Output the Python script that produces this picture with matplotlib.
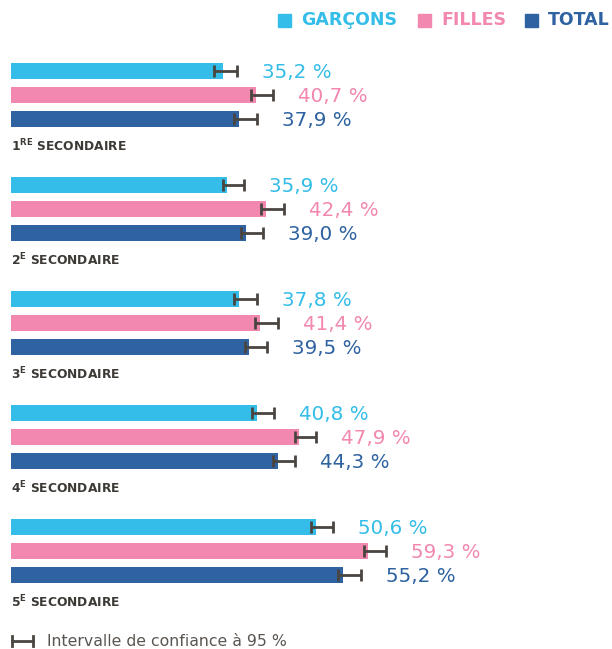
import matplotlib.pyplot as plt
import numpy as np

niveaux = ["1", "2", "3", "4", "5"]
sup = ["RE", "E", "E", "E", "E"]
garcons = [35.2, 35.9, 37.8, 40.8, 50.6]
filles = [40.7, 42.4, 41.4, 47.9, 59.3]
total = [37.9, 39.0, 39.5, 44.3, 55.2]
# intervalle de confiance (bas, haut)
garcons_lo = [1.4, 0.7, 0.7, 0.8, 0.8]
garcons_hi = [2.4, 2.8, 3.0, 2.9, 2.9]
filles_lo = [0.8, 0.8, 0.8, 0.8, 0.7]
filles_hi = [2.8, 2.9, 2.9, 2.8, 3.0]
total_lo = [0.9, 0.8, 0.7, 0.7, 0.8]
total_hi = [2.9, 2.9, 3.0, 2.9, 2.9]

c_g = "#33bde8"
c_f = "#f287b0"
c_t = "#2e62a0"
c_err = "#4a4540"
c_txt = "#3d3a36"

fig = plt.figure(figsize=(6.12, 6.49), dpi=100)
ax = fig.add_axes([0, 0, 1, 1])
px = 6.02  # pixels par point de pourcentage
ax.set_xlim(-11 / px, (612 - 11) / px)
ax.set_ylim(649, 0)
ax.axis("off")

series = [(garcons, garcons_lo, garcons_hi, c_g),
          (filles, filles_lo, filles_hi, c_f),
          (total, total_lo, total_hi, c_t)]

base = 71 + 114 * np.arange(len(niveaux))
for k, (vals, lo, hi, col) in enumerate(series):
    y = base + 24 * k
    ax.barh(y, vals, height=16, color=col, left=0)
    ax.errorbar(vals, y, xerr=[lo, hi], fmt="none", ecolor=c_err,
                elinewidth=2, capsize=4.5, capthick=2)
    for v, h, yy in zip(vals, hi, y):
        ax.annotate(f"{v:.1f} %".replace(".", ","), (v + h, yy + 1),
                    xytext=(18, 0), textcoords="offset points",
                    ha="left", va="center", color=col, fontsize=14.3,
                    fontweight="medium")

for i, (n, s) in enumerate(zip(niveaux, sup)):
    ax.text(0, base[i] + 75, r"$\mathbf{" + n + "^{" + s + "}}$ SECONDAIRE",
            fontsize=8.8, fontweight="bold", color=c_txt, va="center", ha="left")

# légende du haut
for x0, lab, col in [(278, "GARÇONS", c_g), (418, "FILLES", c_f), (525, "TOTAL", c_t)]:
    fig.patches.append(plt.Rectangle((x0 / 612, 1 - 27 / 649), 13 / 612, 13 / 649,
                                     transform=fig.transFigure, color=col))
    fig.text((x0 + 23) / 612, 1 - 20 / 649, lab, color=col, fontsize=12.5,
             fontweight="bold", va="center", ha="left")

# légende de l'intervalle
ax.plot([0.2, 23 / px - 0.1], [641, 641], color=c_err, lw=2)
ax.plot([0.2, 0.2], [636, 646], color=c_err, lw=2)
ax.plot([23 / px - 0.1, 23 / px - 0.1], [636, 646], color=c_err, lw=2)
fig.text(47 / 612, 1 - 641 / 649, "Intervalle de confiance à 95 %",
         fontsize=11.3, color="#5a5550", va="center", ha="left")

fig.savefig("out.png", dpi=100)
